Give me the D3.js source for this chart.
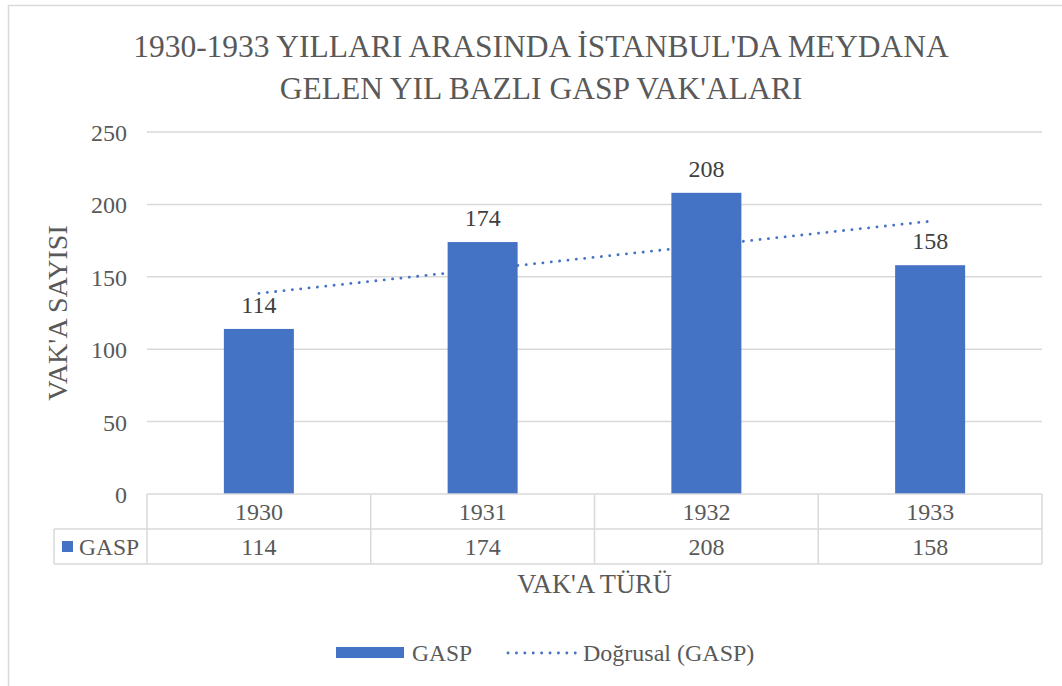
<!DOCTYPE html>
<html>
<head>
<meta charset="utf-8">
<script src="https://cdn.jsdelivr.net/npm/d3@7"></script>
</head>
<body style="margin:0;background:#fff">
<div id="chart"></div>
<script>
var years = ["1930", "1931", "1932", "1933"];
var gasp = [114, 174, 208, 158];
var yTicks = [0, 50, 100, 150, 200, 250];
var titleLines = ["1930-1933 YILLARI ARASINDA İSTANBUL'DA MEYDANA", "GELEN YIL BAZLI GASP VAK'ALARI"];

var cfg = {width: 1062, height: 686, left: 147, right: 1042, top: 132, bottom: 494,
	barColor: "#4472C4", grid: "#d9d9d9", border: "#d9d9d9", text: "#595959",
	font: "'Liberation Serif', monospace"};

var svg = d3.select("#chart").append("svg").attr("width", cfg.width).attr("height", cfg.height);

// helper: every text gets its own font style
function txt(sel, size, color){
	return sel.style("font-family", cfg.font).style("font-size", size + "px").style("fill", color || cfg.text);
}

// outer chart border
svg.append("rect").attr("x", 8.5).attr("y", 5.5).attr("width", 1080).attr("height", 700)
	.style("fill", "none").style("stroke", cfg.border).style("stroke-width", 1.5);

var x = d3.scaleBand().domain(years).range([cfg.left, cfg.right]).paddingInner(0).paddingOuter(0);
var y = d3.scaleLinear().domain([0, 250]).range([cfg.bottom, cfg.top]);

// title
titleLines.forEach(function(t, i){
	txt(svg.append("text").attr("x", 541).attr("y", 57 + i * 42).attr("text-anchor", "middle"), 31.5).text(t);
});

// grid
svg.selectAll("line.grid").data(yTicks.filter(function(d){return d > 0;})).enter()
	.append("line").attr("class", "grid")
	.attr("x1", cfg.left).attr("x2", cfg.right)
	.attr("y1", function(d){return y(d);}).attr("y2", function(d){return y(d);})
	.style("stroke", cfg.grid).style("stroke-width", 1.5);

var yAxis = svg.append("g").attr("transform", "translate(" + (cfg.left - 20) + ",0)")
	.call(d3.axisLeft(y).tickValues(yTicks).tickSize(0).tickPadding(0));
yAxis.select(".domain").remove();
txt(yAxis.selectAll("text"), 24).attr("dy", "0.35em");

txt(svg.append("text").attr("transform", "translate(67,313) rotate(-90)").attr("text-anchor", "middle"), 28)
	.text("VAK'A SAYISI");

// bars
var barW = 70;
svg.selectAll("rect.bar").data(gasp).enter().append("rect").attr("class", "bar")
	.attr("x", function(d, i){return x(years[i]) + x.bandwidth()/2 - barW/2;})
	.attr("width", barW)
	.attr("y", function(d){return y(d);})
	.attr("height", function(d){return y(0) - y(d);})
	.style("fill", cfg.barColor);

// linear trend (least squares over the series)
var n = gasp.length;
var mx = d3.mean(gasp, function(d, i){return i + 1;});
var my = d3.mean(gasp);
var slope = d3.sum(gasp, function(d, i){return (i + 1 - mx) * (d - my);}) / d3.sum(gasp, function(d, i){return Math.pow(i + 1 - mx, 2);});
var trend = [1, n].map(function(k){return {k: k, v: my + slope * (k - mx)};});
svg.append("path").datum(trend)
	.attr("d", d3.line().x(function(d){return x(years[d.k - 1]) + x.bandwidth()/2;}).y(function(d){return y(d.v);}))
	.style("fill", "none").style("stroke", cfg.barColor).style("stroke-width", 2.8)
	.style("stroke-dasharray", "0.1 8.3").style("stroke-linecap", "round");

// data labels
txt(svg.selectAll("text.lbl").data(gasp).enter().append("text").attr("class", "lbl")
	.attr("x", function(d, i){return x(years[i]) + x.bandwidth()/2;})
	.attr("y", function(d){return y(d) - 16;})
	.attr("text-anchor", "middle"), 24, "#404040")
	.text(function(d){return d;});

// data table
var rowTop = cfg.bottom, rowMid = 529, rowBot = 564, tblLeft = 54;
var tbl = svg.append("g").style("stroke", cfg.grid).style("stroke-width", 1.5);
tbl.append("line").attr("x1", cfg.left).attr("x2", cfg.right).attr("y1", rowTop).attr("y2", rowTop);
tbl.append("line").attr("x1", tblLeft).attr("x2", cfg.right).attr("y1", rowMid).attr("y2", rowMid);
tbl.append("line").attr("x1", tblLeft).attr("x2", cfg.right).attr("y1", rowBot).attr("y2", rowBot);
tbl.append("line").attr("x1", tblLeft).attr("x2", tblLeft).attr("y1", rowMid).attr("y2", rowBot);
tbl.selectAll("line.col").data(years.concat(["end"])).enter().append("line").attr("class", "col")
	.attr("x1", function(d){return d == "end" ? cfg.right : x(d);})
	.attr("x2", function(d){return d == "end" ? cfg.right : x(d);})
	.attr("y1", rowTop).attr("y2", rowBot);

txt(svg.selectAll("text.yr").data(years).enter().append("text").attr("class", "yr")
	.attr("x", function(d){return x(d) + x.bandwidth()/2;}).attr("y", (rowTop + rowMid)/2 + 8)
	.attr("text-anchor", "middle"), 24).text(function(d){return d;});
txt(svg.selectAll("text.val").data(gasp).enter().append("text").attr("class", "val")
	.attr("x", function(d, i){return x(years[i]) + x.bandwidth()/2;}).attr("y", (rowMid + rowBot)/2 + 8)
	.attr("text-anchor", "middle"), 24).text(function(d){return d;});
svg.append("rect").attr("x", 62).attr("y", 541).attr("width", 11).attr("height", 11).style("fill", cfg.barColor);
txt(svg.append("text").attr("x", 79).attr("y", (rowMid + rowBot)/2 + 8), 23.5).text("GASP");

txt(svg.append("text").attr("x", (cfg.left + cfg.right)/2).attr("y", 593).attr("text-anchor", "middle"), 26.5)
	.text("VAK'A TÜRÜ");

// legend
svg.append("rect").attr("x", 336).attr("y", 647).attr("width", 68).attr("height", 11).style("fill", cfg.barColor);
txt(svg.append("text").attr("x", 412).attr("y", 661), 23.5).text("GASP");
svg.append("line").attr("x1", 508).attr("x2", 577).attr("y1", 653).attr("y2", 653)
	.style("stroke", cfg.barColor).style("stroke-width", 2.8)
	.style("stroke-dasharray", "0.1 8.3").style("stroke-linecap", "round");
txt(svg.append("text").attr("x", 583).attr("y", 661), 24).text("Doğrusal (GASP)");
</script>
</body>
</html>
